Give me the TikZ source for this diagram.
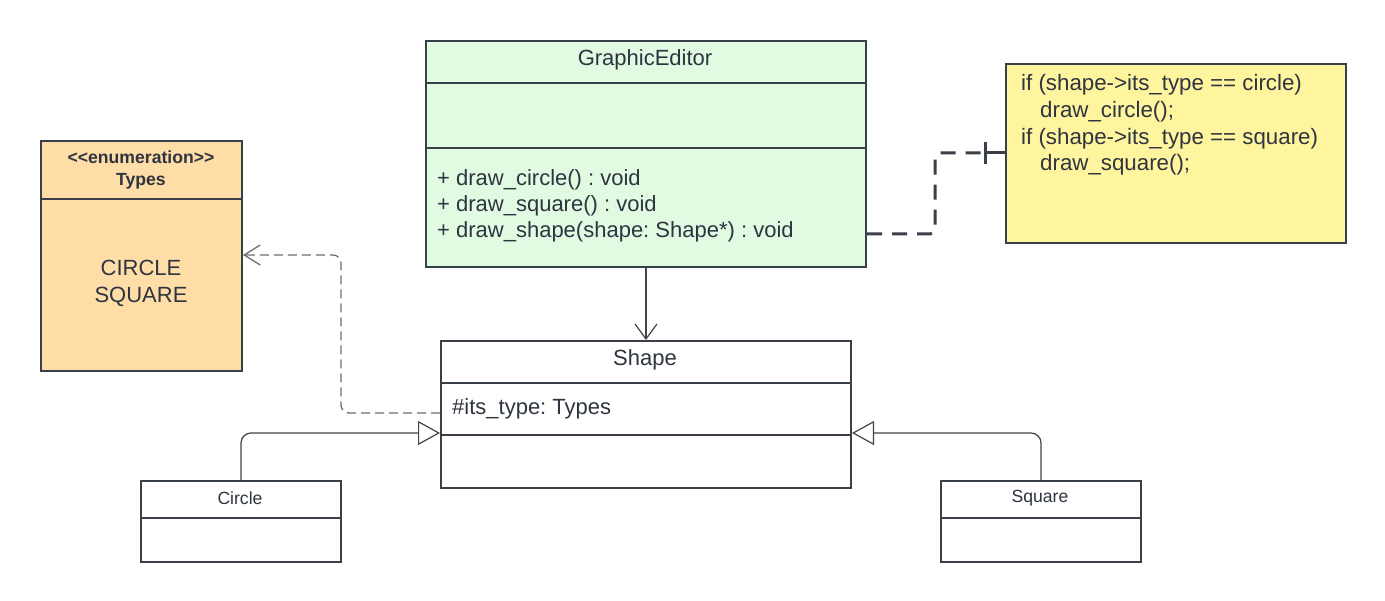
\documentclass[tikz,border=0pt]{standalone}
\usepackage{fontspec}
\setmainfont{Liberation Sans}
\usetikzlibrary{arrows.meta}
\frenchspacing
\definecolor{edge}{HTML}{3A4048}
\definecolor{txt}{HTML}{2E3440}
\definecolor{geFill}{HTML}{E1FAE2}
\definecolor{enumFill}{HTML}{FFDDA6}
\definecolor{noteFill}{HTML}{FFF59F}
\definecolor{linkgray}{HTML}{444444}
\definecolor{depgray}{HTML}{707070}
\newcommand{\fsz}[2]{\fontsize{#1}{#2}\selectfont}
\begin{document}
\begin{tikzpicture}[x=1pt,y=-1pt,
  box/.style={draw=edge, line width=2pt, inner sep=0pt, anchor=north west},
  divider/.style={draw=edge, line width=2pt},
  label/.style={text=txt, inner sep=0pt},
  assoc/.style={draw=linkgray, line width=1.2pt},
  depend/.style={draw=depgray, line width=1.3pt, dash pattern=on 9pt off 5pt, rounded corners=8pt},
  gen/.style={draw=linkgray, line width=1.2pt, rounded corners=10pt},
  notelink/.style={draw=edge, line width=3pt, dash pattern=on 15pt off 10pt, rounded corners=5pt}]
\fill[white] (0,0) rectangle (1385,601);
\useasboundingbox (0,0) rectangle (1385,601);

% GraphicEditor
\node[box, fill=geFill, minimum width=440pt, minimum height=226pt] (ge) at (425,40) {};
\draw[divider] (ge.west |- 0,83) -- (ge.east |- 0,83);
\draw[divider] (ge.west |- 0,148) -- (ge.east |- 0,148);
\node[label, font=\fsz{22}{26}] (getitle) at (645,60) {GraphicEditor};
\node[label, anchor=west, align=left, font=\fsz{22}{26}] (gemembers) at (437,206)
  {+ draw\_circle() : void\\+ draw\_square() : void\\+ draw\_shape(shape: Shape*) : void};

% Note
\node[box, fill=noteFill, minimum width=340pt, minimum height=179pt] (note) at (1005,63) {};
\node[label, anchor=west, align=left, font=\fsz{22.3}{26.7}] (notetext) at (1021,125)
  {if (shape->its\_type == circle)\\\hspace*{19pt}draw\_circle();\\if (shape->its\_type == square)\\\hspace*{19pt}draw\_square();};

% Types
\node[box, fill=enumFill, minimum width=201pt, minimum height=230pt] (types) at (40,140) {};
\draw[divider] (types.west |- 0,199) -- (types.east |- 0,199);
\node[label, align=center, font=\fsz{17.6}{22}\bfseries] (typestitle) at (141,170) {<{}<enumeration>{}>\\Types};
\node[label, align=center, font=\fsz{22}{27}] (typesvals) at (141,283) {CIRCLE\\SQUARE};

% Shape
\node[box, fill=white, minimum width=410pt, minimum height=147pt] (shape) at (440,340) {};
\draw[divider] (shape.west |- 0,383) -- (shape.east |- 0,383);
\draw[divider] (shape.west |- 0,435) -- (shape.east |- 0,435);
\node[label, font=\fsz{22}{26}] (shapetitle) at (645,360) {Shape};
\node[label, anchor=west, font=\fsz{22}{26}] (shapeattr) at (452,409) {\#its\_type: Types};

% Circle
\node[box, fill=white, minimum width=200pt, minimum height=81pt] (circle) at (140,480) {};
\draw[divider] (circle.west |- 0,518) -- (circle.east |- 0,518);
\node[label, font=\fsz{17.6}{21}] (circletitle) at (240,498) {Circle};

% Square
\node[box, fill=white, minimum width=200pt, minimum height=81pt] (square) at (940,480) {};
\draw[divider] (square.west |- 0,518) -- (square.east |- 0,518);
\node[label, font=\fsz{17.6}{21}] (squaretitle) at (1040,498) {Square};

% Connectors
\draw[assoc, -{Straight Barb[length=15pt, width=22pt, line width=1.2pt]}] (ge.south) -- (shape.north);
\draw[depend, -{Straight Barb[length=16pt, width=20pt, line width=1.3pt]}]
  (shape.west |- 0,413) -- (341,413) -- (341,255) -- (types.east |- 0,255);
\draw[gen, -{Triangle[open, length=22pt, width=24pt, line width=1.2pt]}]
  (circle.north) |- (shape.west |- 0,433);
\draw[gen, -{Triangle[open, length=22pt, width=24pt, line width=1.2pt]}]
  (square.north) |- (shape.east |- 0,433);
\coordinate (tick) at (984,153);
\draw[notelink] (ge.east |- 0,234) -- (935,234) -- (935,153) -- (tick);
\draw[draw=edge, line width=3pt, {Bar[width=22pt, line width=3pt]}-] (tick) -- (note.west |- tick);
\end{tikzpicture}
\end{document}
